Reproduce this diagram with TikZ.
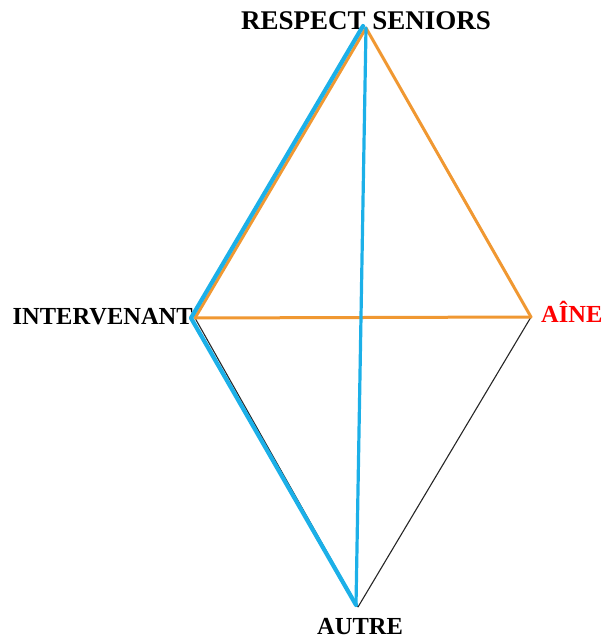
\documentclass[tikz,border=0pt]{standalone}
\usepackage{fontspec}
\setmainfont{Liberation Serif}
\definecolor{edgeorange}{RGB}{240,152,50}
\definecolor{edgeblue}{RGB}{28,176,232}
\definecolor{labelred}{RGB}{255,0,0}
\begin{document}
\begin{tikzpicture}[x=1pt,y=-1pt,
  lbl/.style={font=\fontsize{24.5}{24.5}\selectfont\bfseries, inner sep=0pt},
  orangeedge/.style={draw=edgeorange, line width=3pt, line cap=round, line join=round},
  blueedge/.style={draw=edgeblue, line width=4.2pt, line cap=round, line join=round},
  blueedgethin/.style={draw=edgeblue, line width=3.2pt, line cap=round},
  thinedge/.style={draw=black!85, line width=1.1pt}]
  \useasboundingbox (0,0) rectangle (608,639);

  % vertices of the diamond
  \coordinate (top) at (366,28);
  \coordinate (left) at (195,318);
  \coordinate (right) at (531,317);
  \coordinate (bottom) at (358,607);
  % the blue path runs just beside the orange one
  \coordinate (topb) at (363,26);
  \coordinate (leftb) at (191,318);
  \coordinate (bottomb) at (356,605);

  % labels
  \node[lbl, anchor=base, font=\fontsize{27}{27}\selectfont\bfseries] (respect) at (366,30) {RESPECT SENIORS};
  \node[lbl, anchor=base east] (interv) at (193,324) {INTERVENANT};
  \node[lbl, anchor=base west, text=labelred] (aine) at (541,322) {AÎNE};
  \node[lbl, anchor=base] (autre) at (360,634) {AUTRE};

  % thin black edges
  \draw[thinedge] (left) -- (bottom);
  \draw[thinedge] (bottom) -- (right);

  % orange triangle
  \draw[orangeedge] (top) -- (left);
  \draw[orangeedge] (top) -- (right);
  \draw[orangeedge] (left) -- (right);

  % blue path
  \draw[blueedge] (topb) -- (leftb) -- (bottomb);
  \draw[blueedgethin] (top) -- (bottomb);
\end{tikzpicture}
\end{document}
